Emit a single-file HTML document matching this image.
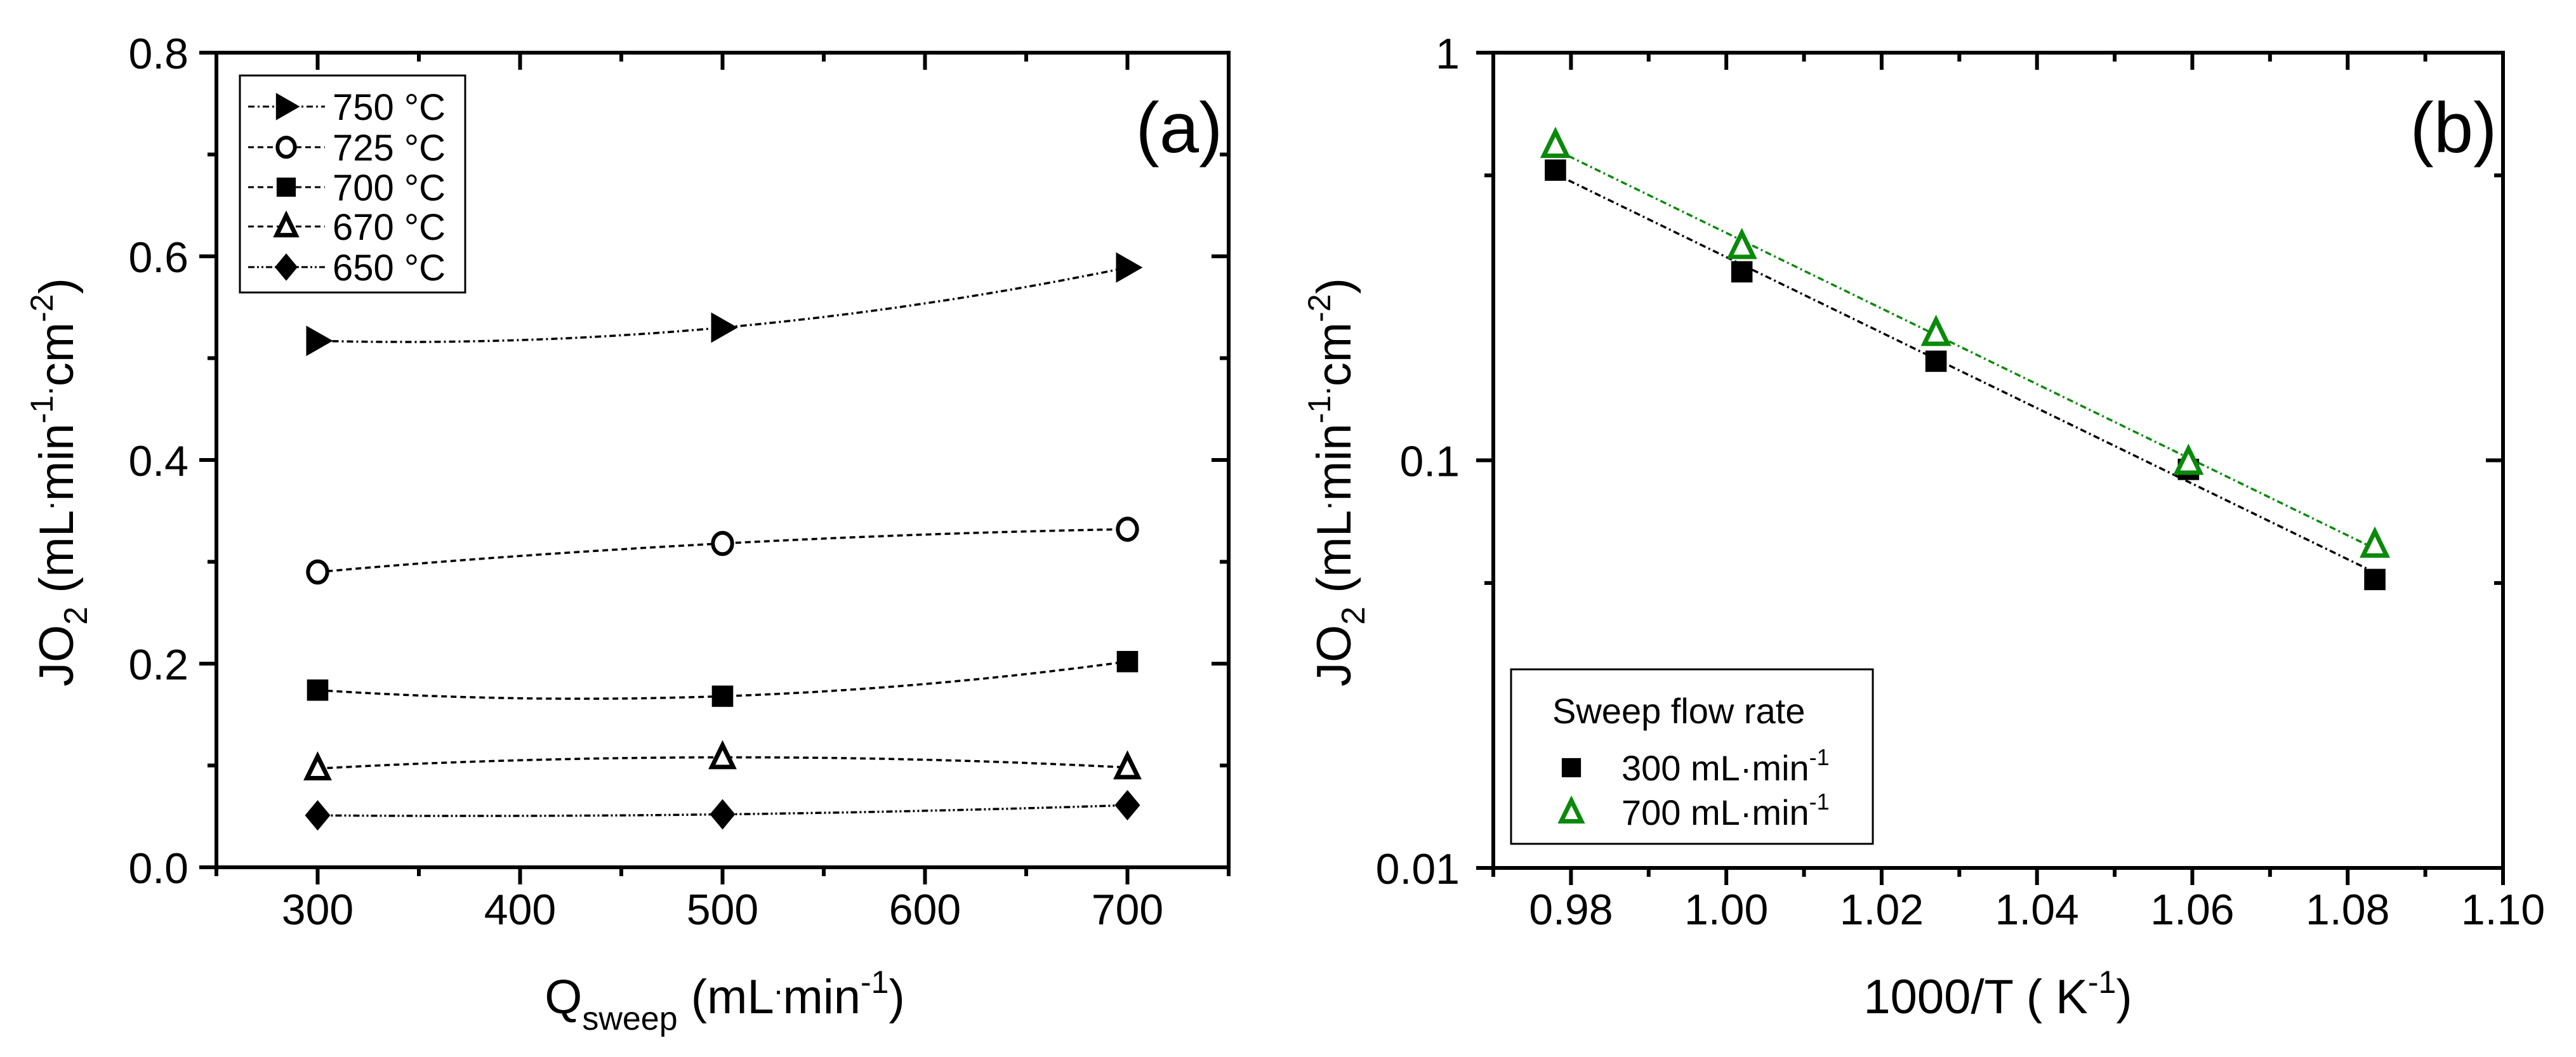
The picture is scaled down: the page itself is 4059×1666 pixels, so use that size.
<!DOCTYPE html>
<html><head><meta charset="utf-8">
<style>
html,body{margin:0;padding:0;background:#fff;}
svg{display:block;}
text{font-family:"Liberation Sans",Arial,sans-serif;fill:#000;}
</style></head>
<body>
<svg id="fig" width="4059" height="1666" viewBox="0 0 4059 1666" xmlns="http://www.w3.org/2000/svg">
<rect width="4059" height="1666" fill="#fff"/>
<g id="pa"></g>
<g id="pb"></g>
</svg>
<script>
// ---------- Panel (a) data ----------
const aCategories = [300, 500, 700];
const aSeriesNames = ["750 °C", "725 °C", "700 °C", "670 °C", "650 °C"];
const a750 = [0.517, 0.530, 0.589];
const a725 = [0.290, 0.318, 0.332];
const a700 = [0.174, 0.168, 0.202];
const a670 = [0.097, 0.108, 0.098];
const a650 = [0.051, 0.052, 0.061];
const aXTicks = [300, 400, 500, 600, 700];
const aYTicks = [0.0, 0.2, 0.4, 0.6, 0.8];
const aYTickLabels = ["0.0", "0.2", "0.4", "0.6", "0.8"];

// ---------- Panel (b) data ----------
const bX = [0.978, 1.002, 1.027, 1.0595, 1.0835];
const b300 = [0.515, 0.29, 0.175, 0.095, 0.051];
const b700 = [0.593, 0.335, 0.205, 0.099, 0.062];
const bXTicks = [0.98, 1.00, 1.02, 1.04, 1.06, 1.08, 1.10];
const bXTickLabels = ["0.98", "1.00", "1.02", "1.04", "1.06", "1.08", "1.10"];
const bYTicks = [0.01, 0.1, 1];
const bYTickLabels = ["0.01", "0.1", "1"];

const NS = "http://www.w3.org/2000/svg";
function mk(parent, tag, attrs, txt) {
  const e = document.createElementNS(NS, tag);
  for (const k in attrs) e.setAttribute(k, attrs[k]);
  if (txt !== undefined) e.textContent = txt;
  parent.appendChild(e);
  return e;
}

// ===== Panel A =====
const pa = document.getElementById('pa');
const AL = 341, AR = 1936, AT = 83, AB = 1367;
const ax = v => AL + (v - 250) / 500 * (AR - AL);
const ay = v => AB - v / 0.8 * (AB - AT);

function frame(g, L, R, T, B) {
  const f = mk(g, 'rect', {x: L, y: T, width: R - L, height: B - T, fill: 'none', stroke: '#000', 'stroke-width': 6});
  
  
}
frame(pa, AL, AR, AT, AB);

for (let v = 250; v <= 750; v += 50) {
  const major = v % 100 === 0;
  const len = major ? 27 : 14;
  const x = ax(v);
  const t = mk(pa, 'line', {x1: x, y1: AB, x2: x, y2: AB + len, stroke: '#000', 'stroke-width': 6});
  
  
  const t2 = mk(pa, 'line', {x1: x, y1: AT, x2: x, y2: AT + len, stroke: '#000', 'stroke-width': 6});
  
  
}
aXTicks.forEach(v => {
  const l = mk(pa, 'text', {x: ax(v), y: 1457, 'font-size': 68, 'text-anchor': 'middle'}, String(v));
  
  
});
for (let i = 0; i <= 8; i++) {
  const v = i * 0.1;
  const major = i % 2 === 0;
  const len = major ? 27 : 14;
  const y = ay(v);
  const t = mk(pa, 'line', {x1: AL - len, y1: y, x2: AL, y2: y, stroke: '#000', 'stroke-width': 6});
  
  
  const t2 = mk(pa, 'line', {x1: AR - len, y1: y, x2: AR, y2: y, stroke: '#000', 'stroke-width': 6});
  
  
}
aYTicks.forEach((v, i) => {
  const l = mk(pa, 'text', {x: 297, y: ay(v) + 25, 'font-size': 68, 'text-anchor': 'end'}, aYTickLabels[i]);
  
  
});
const axt = mk(pa, 'text', {x: 1142, y: 1597, 'font-size': 76, 'text-anchor': 'middle'});


axt.innerHTML = 'Q<tspan font-size="52" dy="26">sweep</tspan><tspan dy="-26"> (mL</tspan><tspan font-size="50" dy="-30">.</tspan><tspan dy="30">min</tspan><tspan font-size="50" dy="-32">-1</tspan><tspan dy="32">)</tspan>';
const ayt = mk(pa, 'text', {x: 0, y: 0, 'font-size': 76, 'text-anchor': 'middle', transform: 'translate(115,760) rotate(-90)'});


ayt.innerHTML = 'JO<tspan font-size="52" dy="22">2</tspan><tspan dy="-22"> (mL</tspan><tspan font-size="50" dy="-30">.</tspan><tspan dy="30">min</tspan><tspan font-size="50" dy="-32">-1.</tspan><tspan dy="32">cm</tspan><tspan font-size="50" dy="-32">-2</tspan><tspan dy="32">)</tspan>';
const lblA = mk(pa, 'text', {x: 1858, y: 240, 'font-size': 112, 'text-anchor': 'middle'}, '(a)');



function marker(g, type, x, y, s, color) {
  color = color || '#000';
  let e;
  if (type === 'tri-right') e = mk(g, 'polygon', {points: `${x - s*0.45},${y - s*0.6} ${x + s*0.6},${y} ${x - s*0.45},${y + s*0.6}`, fill: color});
  else if (type === 'circle') e = mk(g, 'ellipse', {cx: x, cy: y, rx: s*0.38, ry: s*0.42, fill: '#fff', stroke: color, 'stroke-width': 6});
  else if (type === 'square') e = mk(g, 'rect', {x: x - s*0.42, y: y - s*0.42, width: s*0.84, height: s*0.84, fill: color});
  else if (type === 'tri-up') e = mk(g, 'polygon', {points: `${x},${y - s*0.48} ${x + s*0.42},${y + s*0.38} ${x - s*0.42},${y + s*0.38}`, fill: '#fff', stroke: color, 'stroke-width': 7, 'stroke-linejoin': 'miter'});
  else if (type === 'diamond') e = mk(g, 'polygon', {points: `${x},${y - s*0.6} ${x + s*0.5},${y} ${x},${y + s*0.6} ${x - s*0.5},${y}`, fill: color});
  
  
  return e;
}

const aSeries = [a750, a725, a700, a670, a650];
const aMarkers = ['tri-right', 'circle', 'square', 'tri-up', 'diamond'];
const aDash = ['10,5,3,5', '9,6', '9,6', '9,6', '10,4,3,4,3,4'];

function smoothPath(vals) {
  const xs = aCategories, pts = [];
  for (let i = 0; i <= 60; i++) {
    const x = xs[0] + (xs[2] - xs[0]) * i / 60;
    let y = 0;
    for (let j = 0; j < 3; j++) {
      let L = 1;
      for (let k = 0; k < 3; k++) if (k !== j) L *= (x - xs[k]) / (xs[j] - xs[k]);
      y += vals[j] * L;
    }
    pts.push((i ? 'L' : 'M') + ax(x).toFixed(1) + ',' + ay(y).toFixed(1));
  }
  return pts.join(' ');
}
aSeries.forEach((vals, si) => {
  const g = mk(pa, 'g', {});
  
  
  const p = mk(g, 'path', {d: smoothPath(vals), fill: 'none', stroke: '#000', 'stroke-width': 3.5, 'stroke-dasharray': aDash[si]});
  
  
  vals.forEach((v, i) => marker(g, aMarkers[si], ax(aCategories[i]), ay(v), 40));
});

const lgA = mk(pa, 'g', {});


const lgAbox = mk(lgA, 'rect', {x: 378, y: 119, width: 355, height: 342, fill: '#fff', stroke: '#000', 'stroke-width': 3});


const lgRows = [168, 232, 295, 357, 421];
aSeriesNames.forEach((n, i) => {
  const y = lgRows[i];
  const ln = mk(lgA, 'line', {x1: 391, y1: y, x2: 512, y2: y, stroke: '#000', 'stroke-width': 3, 'stroke-dasharray': aDash[i]});
  
  
  marker(lgA, aMarkers[i], 451, y, 36);
  const t = mk(lgA, 'text', {x: 524, y: y + 21, 'font-size': 58}, n);
  
  
});

// ===== Panel B =====
const pb = document.getElementById('pb');
const BL = 2353, BR = 3944, BT = 83, BB = 1368;
const bx = v => BL + (v - 0.97) / 0.13 * (BR - BL);
const by = v => BB - (Math.log10(v) + 2) / 2 * (BB - BT);
frame(pb, BL, BR, BT, BB);
for (let i = 0; i <= 13; i++) {
  const v = 0.97 + i * 0.01;
  const major = i % 2 === 1;
  const len = major ? 27 : 14;
  const x = bx(v);
  const t = mk(pb, 'line', {x1: x, y1: BB, x2: x, y2: BB + len, stroke: '#000', 'stroke-width': 6});
  
  
  const t2 = mk(pb, 'line', {x1: x, y1: BT, x2: x, y2: BT + len, stroke: '#000', 'stroke-width': 6});
  
  
}
bXTicks.forEach((v, i) => {
  const l = mk(pb, 'text', {x: bx(v), y: 1457, 'font-size': 68, 'text-anchor': 'middle'}, bXTickLabels[i]);
  
  
});
[0.01, 0.05, 0.1, 0.5, 1].forEach(v => {
  const major = bYTicks.includes(v);
  const len = major ? 27 : 14;
  const y = by(v);
  const t = mk(pb, 'line', {x1: BL - len, y1: y, x2: BL, y2: y, stroke: '#000', 'stroke-width': 6});
  
  
  const t2 = mk(pb, 'line', {x1: BR - len, y1: y, x2: BR, y2: y, stroke: '#000', 'stroke-width': 6});
  
  
});
bYTicks.forEach((v, i) => {
  const l = mk(pb, 'text', {x: 2300, y: by(v) + 25, 'font-size': 68, 'text-anchor': 'end'}, bYTickLabels[i]);
  
  
});
const bxt = mk(pb, 'text', {x: 3148, y: 1597, 'font-size': 76, 'text-anchor': 'middle'});


bxt.innerHTML = '1000/T ( K<tspan font-size="50" dy="-32">-1</tspan><tspan dy="32">)</tspan>';
const byt = mk(pb, 'text', {x: 0, y: 0, 'font-size': 76, 'text-anchor': 'middle', transform: 'translate(2128,760) rotate(-90)'});


byt.innerHTML = 'JO<tspan font-size="52" dy="22">2</tspan><tspan dy="-22"> (mL</tspan><tspan font-size="50" dy="-30">.</tspan><tspan dy="30">min</tspan><tspan font-size="50" dy="-32">-1.</tspan><tspan dy="32">cm</tspan><tspan font-size="50" dy="-32">-2</tspan><tspan dy="32">)</tspan>';
const lblB = mk(pb, 'text', {x: 3866, y: 240, 'font-size': 112, 'text-anchor': 'middle'}, '(b)');



function fitLine(g, xs, ys, color, name) {
  const n = xs.length;
  const ly = ys.map(v => Math.log10(v));
  const mx = xs.reduce((a, b) => a + b) / n, my = ly.reduce((a, b) => a + b) / n;
  let sxy = 0, sxx = 0;
  xs.forEach((x, i) => { sxy += (x - mx) * (ly[i] - my); sxx += (x - mx) * (x - mx); });
  const m = sxy / sxx, c = my - m * mx;
  const x0 = xs[0], x1 = xs[n - 1];
  const l = mk(g, 'line', {x1: bx(x0), y1: by(Math.pow(10, m * x0 + c)), x2: bx(x1), y2: by(Math.pow(10, m * x1 + c)), stroke: color, 'stroke-width': 3.5, 'stroke-dasharray': '10,5,3,5'});
  
  
}
const g300 = mk(pb, 'g', {});


fitLine(g300, bX, b300, '#000', 'fit-line-300');
bX.forEach((x, i) => marker(g300, 'square', bx(x), by(b300[i]), 40, '#000'));
const g700 = mk(pb, 'g', {});


fitLine(g700, bX, b700, '#0a8a0a', 'fit-line-700');
bX.forEach((x, i) => marker(g700, 'tri-up', bx(x), by(b700[i]), 44, '#0a8a0a'));

const lgB = mk(pb, 'g', {});


const lgBbox = mk(lgB, 'rect', {x: 2381, y: 1055, width: 570, height: 275, fill: '#fff', stroke: '#000', 'stroke-width': 3});


const lgBt = mk(lgB, 'text', {x: 2446, y: 1140, 'font-size': 56}, 'Sweep flow rate');


marker(lgB, 'square', 2476, 1210, 36, '#000');
const e1 = mk(lgB, 'text', {x: 2555, y: 1230, 'font-size': 56});


e1.innerHTML = '300 mL·min<tspan font-size="36" dy="-24">-1</tspan>';
marker(lgB, 'tri-up', 2476, 1280, 38, '#0a8a0a');
const e2 = mk(lgB, 'text', {x: 2555, y: 1300, 'font-size': 56});


e2.innerHTML = '700 mL·min<tspan font-size="36" dy="-24">-1</tspan>';
</script>
</body></html>
